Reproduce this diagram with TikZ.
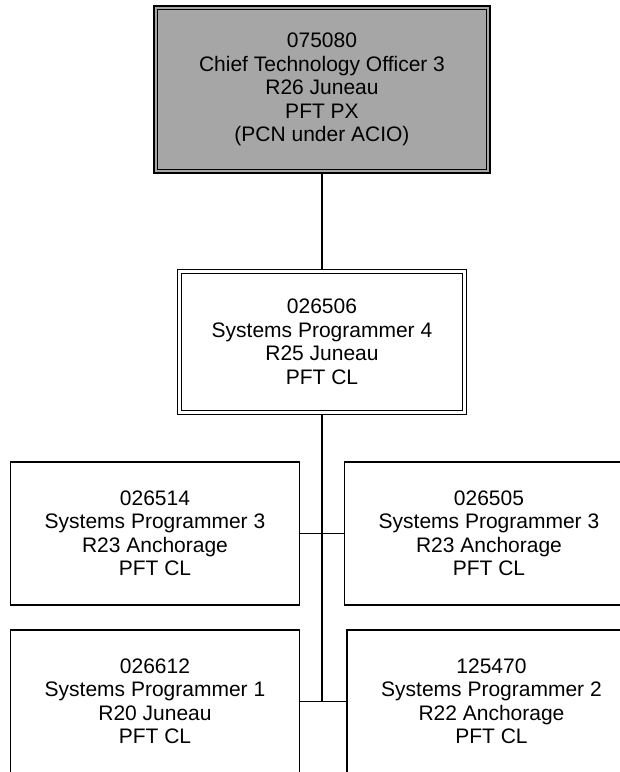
\documentclass[tikz,border=0pt]{standalone}
\usepackage{fontspec}
\setmainfont{Liberation Sans}
\definecolor{boxgray}{RGB}{166,166,166}
\tikzset{
  posbox/.style={draw=black, line width=1.5pt, rectangle, inner sep=0pt, align=center,
    minimum width=289pt, minimum height=143pt, font=\fontsize{21}{23.5}\selectfont},
  topbox/.style={posbox, fill=boxgray, line width=2.6pt, minimum width=336pt, minimum height=167pt},
  midbox/.style={posbox, line width=1.5pt, minimum height=145pt},
  innerline/.style={draw=black, line width=1pt},
  conn/.style={draw=black, line width=1.4pt}
}
\begin{document}
\begin{tikzpicture}[x=1pt,y=-1pt]
\useasboundingbox (0,0) rectangle (620,772);
\clip (0,0) rectangle (620,772);
\fill[white] (0,0) rectangle (620,772);

\node[topbox] (cto) at (322,89.5) {075080\\Chief Technology Officer 3\\R26 Juneau\\PFT PX\\(PCN under ACIO)};
\draw[innerline] ([shift={(4.7pt,-4.7pt)}]cto.north west) rectangle ([shift={(-4.7pt,4.7pt)}]cto.south east);

\node[midbox] (sp4) at (322,342) {026506\\Systems Programmer 4\\R25 Juneau\\PFT CL};
\draw[innerline] ([shift={(5pt,-5pt)}]sp4.north west) rectangle ([shift={(-5pt,5pt)}]sp4.south east);

\node[posbox] (ul) at (155,533.5) {026514\\Systems Programmer 3\\R23 Anchorage\\PFT CL};
\node[posbox] (ur) at (489,533.5) {026505\\Systems Programmer 3\\R23 Anchorage\\PFT CL};
\node[posbox] (ll) at (155,701.5) {026612\\Systems Programmer 1\\R20 Juneau\\PFT CL};
\node[posbox] (lr) at (491.5,701.5) {125470\\Systems Programmer 2\\R22 Anchorage\\PFT CL};

\coordinate (spine) at (sp4.south |- ll.east);
\draw[conn] (cto.south) -- (sp4.north);
\draw[conn] (sp4.south) -- (spine);
\draw[conn] (ul.east) -- (ur.west);
\draw[conn] (ll.east) -- (lr.west);
\end{tikzpicture}
\end{document}
